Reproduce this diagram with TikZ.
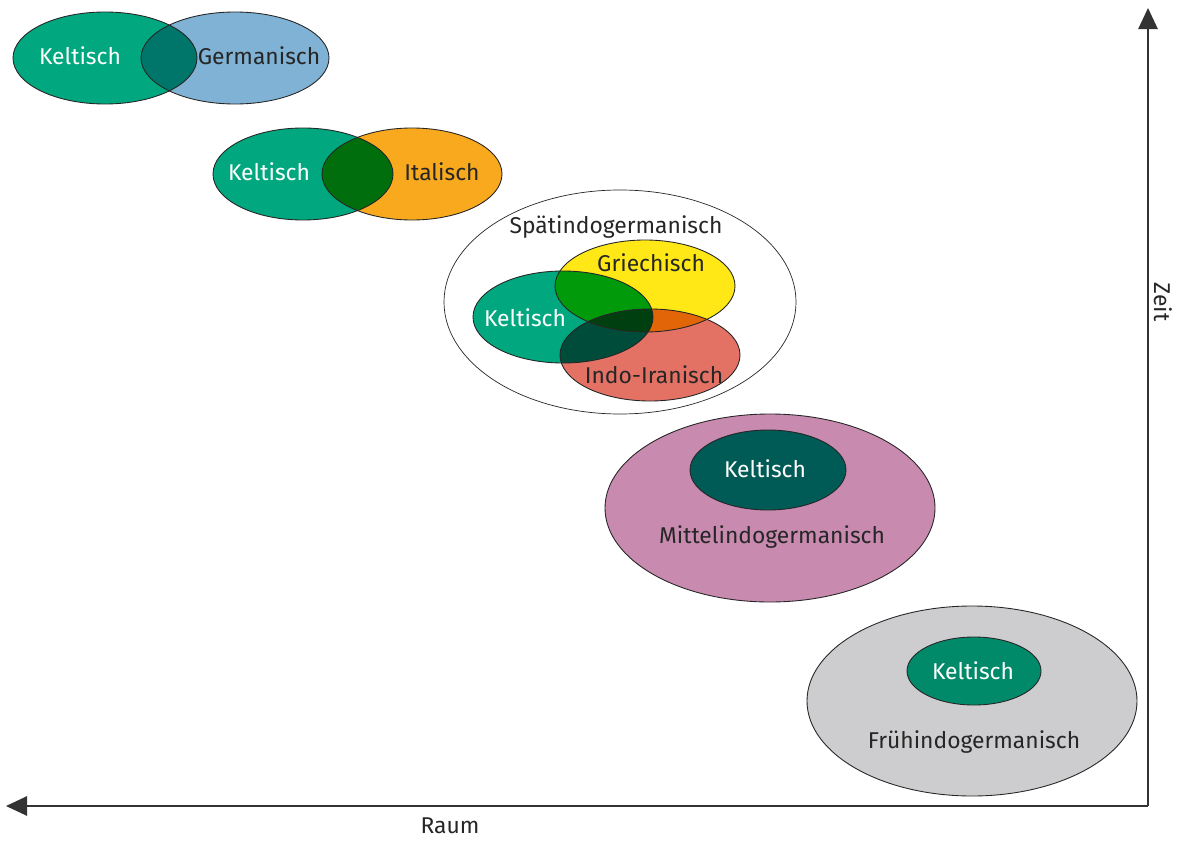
\documentclass[tikz,border=0pt]{standalone}
\usepackage{fontspec}
\setmainfont{Fira Sans}
\usetikzlibrary{arrows.meta}
\definecolor{keltgreen}{HTML}{00A77F}
\definecolor{germblue}{HTML}{7FB2D4}
\definecolor{kgoverlap}{HTML}{00766A}
\definecolor{italorange}{HTML}{F9A91E}
\definecolor{kioverlap}{HTML}{006E0C}
\definecolor{griyellow}{HTML}{FFE816}
\definecolor{indored}{HTML}{E37265}
\definecolor{kelgri}{HTML}{009A0A}
\definecolor{griindo}{HTML}{E26608}
\definecolor{kelindo}{HTML}{004C3A}
\definecolor{allthree}{HTML}{004010}
\definecolor{mittelpink}{HTML}{C98AB0}
\definecolor{mittelkelt}{HTML}{005A55}
\definecolor{fruehgrey}{HTML}{CDCDCF}
\definecolor{fruehkelt}{HTML}{008A6A}
\tikzset{
every node/.style={font=\fontsize{13}{15}\selectfont, text=black!85}
, lighttext/.style={text=white}
, outline/.style={draw=black!85, line width=0.5pt}
, axisline/.style={line width=1.1pt, draw=black!80, -{Triangle[length=12pt,width=11pt]}}}
% ellipse paths (pixel coordinates)
\def\kelA{(105,58) ellipse [x radius=92, y radius=46]}
\def\germ{(235,58) ellipse [x radius=94, y radius=46]}
\def\kelB{(303,174) ellipse [x radius=90, y radius=46]}
\def\ital{(412,174) ellipse [x radius=90, y radius=46]}
\def\spaet{(620,302) ellipse [x radius=176, y radius=112]}
\def\grie{(645,286) ellipse [x radius=90, y radius=46]}
\def\kelC{(563,317) ellipse [x radius=90, y radius=46]}
\def\indo{(650,355) ellipse [x radius=90, y radius=46]}
\def\mittel{(770,508) ellipse [x radius=165, y radius=94]}
\def\kelD{(768,470) ellipse [x radius=78, y radius=40]}
\def\frueh{(972,701) ellipse [x radius=165, y radius=95]}
\def\kelE{(974,671) ellipse [x radius=67, y radius=34]}

\begin{document}
\begin{tikzpicture}[x=0.02cm, y=-0.02cm]
\useasboundingbox (0,0) rectangle (1182,841);
% Keltisch / Germanisch
\fill[keltgreen] \kelA;
\fill[germblue] \germ;
\begin{scope}
\clip \kelA;
\fill[kgoverlap] \germ;
\end{scope}
\draw[outline] \kelA;
\draw[outline] \germ;
\node[lighttext] (kelt1) at (80,56) {Keltisch};
\node (germ1) at (259,56) {Germanisch};
% Keltisch / Italisch
\fill[keltgreen] \kelB;
\fill[italorange] \ital;
\begin{scope}
\clip \kelB;
\fill[kioverlap] \ital;
\end{scope}
\draw[outline] \kelB;
\draw[outline] \ital;
\node[lighttext] (kelt2) at (269,172) {Keltisch};
\node (ital1) at (442,172) {Italisch};
% Spaetindogermanisch
\draw[outline, line width=0.4pt] \spaet;
\fill[keltgreen] \kelC;
\fill[griyellow] \grie;
\fill[indored] \indo;
\begin{scope}
\clip \kelC;
\fill[kelgri] \grie;
\fill[kelindo] \indo;
\clip \grie;
\fill[allthree] \indo;
\end{scope}
\begin{scope}
\clip \grie;
\clip \indo;
\fill[griindo] (470,200) rectangle (800,420);
\clip \kelC;
\fill[allthree] (470,200) rectangle (800,420);
\end{scope}
\draw[outline] \grie;
\draw[outline] \kelC;
\draw[outline] \indo;
\node (spaet1) at (616,227) {Spätindogermanisch};
\node (grie1) at (651,263) {Griechisch};
\node[lighttext] (kelt3) at (525,318) {Keltisch};
\node (indo1) at (654,375) {Indo-Iranisch};
% Mittelindogermanisch
\fill[mittelpink, outline] \mittel;
\fill[mittelkelt, outline] \kelD;
\node[lighttext] (kelt4) at (765,469) {Keltisch};
\node (mittel1) at (772,537) {Mittelindogermanisch};
% Fruehindogermanisch
\fill[fruehgrey, outline] \frueh;
\fill[fruehkelt, outline] \kelE;
\node[lighttext] (kelt5) at (973,671) {Keltisch};
\node (frueh1) at (974,742) {Frühindogermanisch};
% axes
\coordinate (origin) at (1148,806);
\coordinate (zeittip) at (1148,8);
\coordinate (raumtip) at (6,806);
\draw[axisline] (origin) -- (zeittip);
\draw[axisline] (origin) -- (raumtip);
\node[rotate=-90] (zeit) at (1163,302) {Zeit};
\node (raum) at (450,826) {Raum};
\end{tikzpicture}
\end{document}
